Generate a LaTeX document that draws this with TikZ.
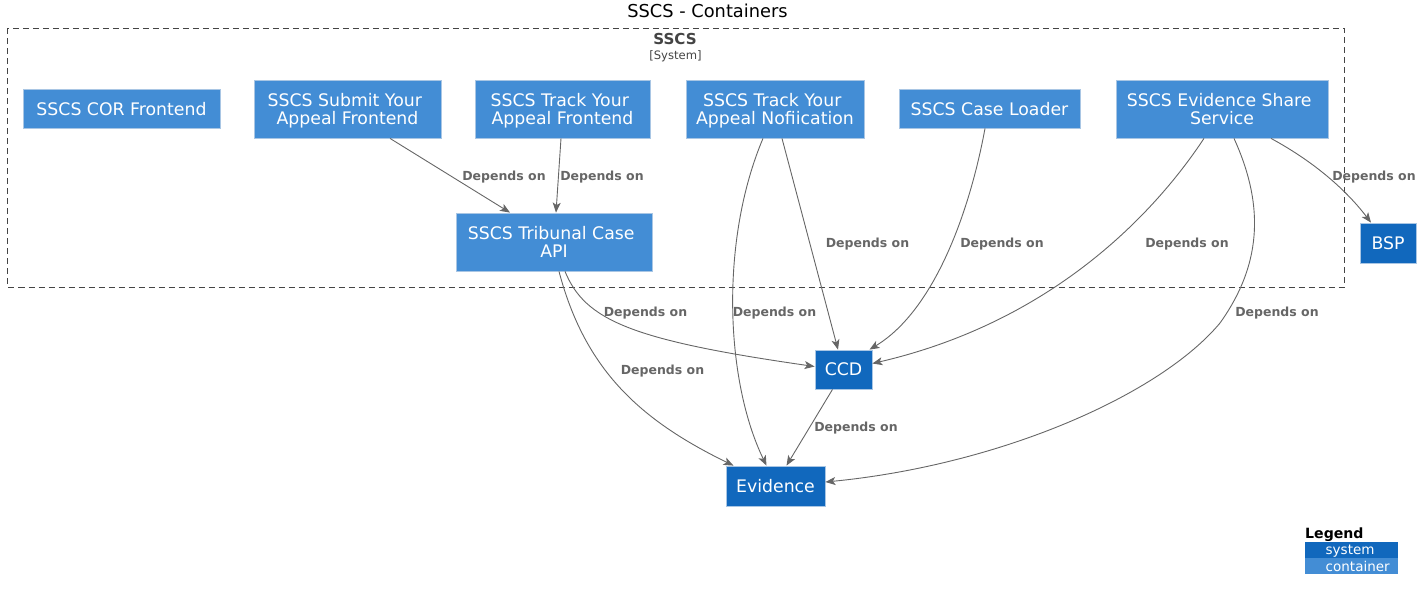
\documentclass[tikz,border=0pt]{standalone}
\usepackage{fontspec}
\setmainfont{DejaVu Sans}
\usetikzlibrary{arrows.meta}
\definecolor{contblue}{HTML}{438DD5}
\definecolor{sysblue}{HTML}{1168BD}
\definecolor{edgegrey}{HTML}{666666}
\definecolor{framegrey}{HTML}{444444}
\definecolor{lineblue}{HTML}{A9C6E4}

\begin{document}
\begin{tikzpicture}[x=1pt, y=-1pt,
        box/.style={draw=lineblue, line width=0.8pt, text=white, align=center,
        inner sep=0pt, text depth=0pt, font=\fontsize{17.3}{18.6}\selectfont},
        container/.style={box, fill=contblue},
        system/.style={box, fill=sysblue},
        dep/.style={text=edgegrey, inner sep=0pt, text height=9.1pt, text depth=0pt,
        font=\bfseries\fontsize{12.5}{14}\selectfont},
        link/.style={draw=edgegrey, line width=0.9pt,
        -{Stealth[length=10pt, width=8pt, inset=2.5pt]}}]
        \useasboundingbox (0,0) rectangle (1425,595);
        % title and boundary
        \node[inner sep=0pt, text height=13pt, text depth=0pt, font=\fontsize{17.8}{20}\selectfont]
        (title) at (707.5,10.5) {SSCS - Containers};
        \draw[framegrey, line width=0.9pt, dash pattern=on 6pt off 4pt] (7.5,28) rectangle (1344,287);
        \node[inner sep=0pt, text=framegrey, text height=11pt, text depth=0pt,
        font=\bfseries\fontsize{15.1}{17}\selectfont] (sscs) at (675,39) {SSCS};
        \node[inner sep=0pt, text=framegrey, text height=8.5pt, text depth=0pt,
        font=\fontsize{11.6}{13}\selectfont] (sscstype) at (675.5,55) {[System]};
        % containers
        \node[container, minimum width=197pt, minimum height=39pt] (cor) at (121.5,108.5)
        {SSCS COR Frontend};
        \node[container, minimum width=187pt, minimum height=58pt] (submit) at (347.5,109)
        {SSCS Submit Your\kern5.5pt\\Appeal Frontend};
        \node[container, minimum width=175pt, minimum height=58pt] (trackfe) at (562.5,109)
        {SSCS Track Your\kern5.5pt\\Appeal Frontend};
        \node[container, minimum width=178pt, minimum height=58pt] (notif) at (775,109)
        {SSCS Track Your\kern5.5pt\\Appeal Nofiication};
        \node[container, minimum width=181pt, minimum height=39pt] (loader) at (989.5,108.5)
        {SSCS Case Loader};
        \node[container, minimum width=212pt, minimum height=58pt] (share) at (1222,109)
        {SSCS Evidence Share\kern5.5pt\\Service};
        \node[container, minimum width=196pt, minimum height=58pt] (api) at (554,242)
        {SSCS Tribunal Case\kern5.5pt\\API};
        % systems
        \node[system, minimum width=56pt, minimum height=40pt] (bsp) at (1388,243) {BSP};
        \node[system, minimum width=57pt, minimum height=39pt] (ccd) at (843.5,369.5) {CCD};
        \node[system, minimum width=99pt, minimum height=40pt] (evidence) at (775.5,486) {Evidence};
        % dependencies
        \draw[link] ([xshift=42.5pt]submit.south) -- ([xshift=-44pt]api.north);
        \draw[link] ([xshift=-1.5pt]trackfe.south) -- ([xshift=2pt]api.north);
        \draw[link] ([xshift=11pt]api.south) .. controls (585,320) and (630,340) .. ([yshift=3pt]ccd.west);
        \draw[link] ([xshift=5pt]api.south) .. controls (585,370) and (640,420) .. ([xshift=-42pt]evidence.north);
        \draw[link] ([xshift=-12pt]notif.south) .. controls (720,240) and (725,380) .. ([xshift=-9pt]evidence.north);
        \draw[link] ([xshift=7pt]notif.south) -- ([xshift=-5.5pt]ccd.north);
        \draw[link] ([xshift=-4.5pt]loader.south) .. controls (970,210) and (935,310) .. ([xshift=26pt]ccd.north);
        \draw[link] ([xshift=-18pt]share.south) .. controls (1160,205) and (1060,320) .. ([yshift=6pt]ccd.east);
        \coordinate (sharebend) at (1220,323);
        \draw[link] ([xshift=12pt]share.south) .. controls (1262,200) and (1265,260) .. (sharebend)
        .. controls (1160,395) and (1000,465) .. ([yshift=4pt]evidence.east);
        \draw[link] ([xshift=49pt]share.south) .. controls (1320,165) and (1350,195) .. ([xshift=-17pt]bsp.north);
        \draw[link] ([xshift=-11pt]ccd.south) -- ([xshift=11pt]evidence.north);
        \node[dep] (dep1) at (504,175.5) {Depends on};
        \node[dep] (dep2) at (602,175.5) {Depends on};
        \node[dep] (dep3) at (645.5,311.5) {Depends on};
        \node[dep] (dep4) at (662.5,369.5) {Depends on};
        \node[dep] (dep5) at (774.5,311.5) {Depends on};
        \node[dep] (dep6) at (867.5,242.5) {Depends on};
        \node[dep] (dep7) at (1002,242.5) {Depends on};
        \node[dep] (dep8) at (1187,242.5) {Depends on};
        \node[dep] (dep9) at (1277,311.5) {Depends on};
        \node[dep] (dep10) at (1374,175.5) {Depends on};
        \node[dep] (dep11) at (856,427) {Depends on};
        % legend
        \node[anchor=west, inner sep=0pt, text height=10.3pt, text depth=0pt,
        font=\bfseries\fontsize{14.1}{16}\selectfont] (legend) at (1305,533) {Legend};
        \fill[sysblue] (1305,542) rectangle (1398,557.5);
        \fill[contblue] (1305,557.5) rectangle (1398,574);
        \node[anchor=base west, inner sep=0pt, text=white, font=\fontsize{13.5}{15}\selectfont]
        (legsys) at (1325.5,554.3) {system};
        \node[anchor=base west, inner sep=0pt, text=white, font=\fontsize{13.5}{15}\selectfont]
        (legcont) at (1325.5,571) {container};
\end{tikzpicture}
\end{document}
